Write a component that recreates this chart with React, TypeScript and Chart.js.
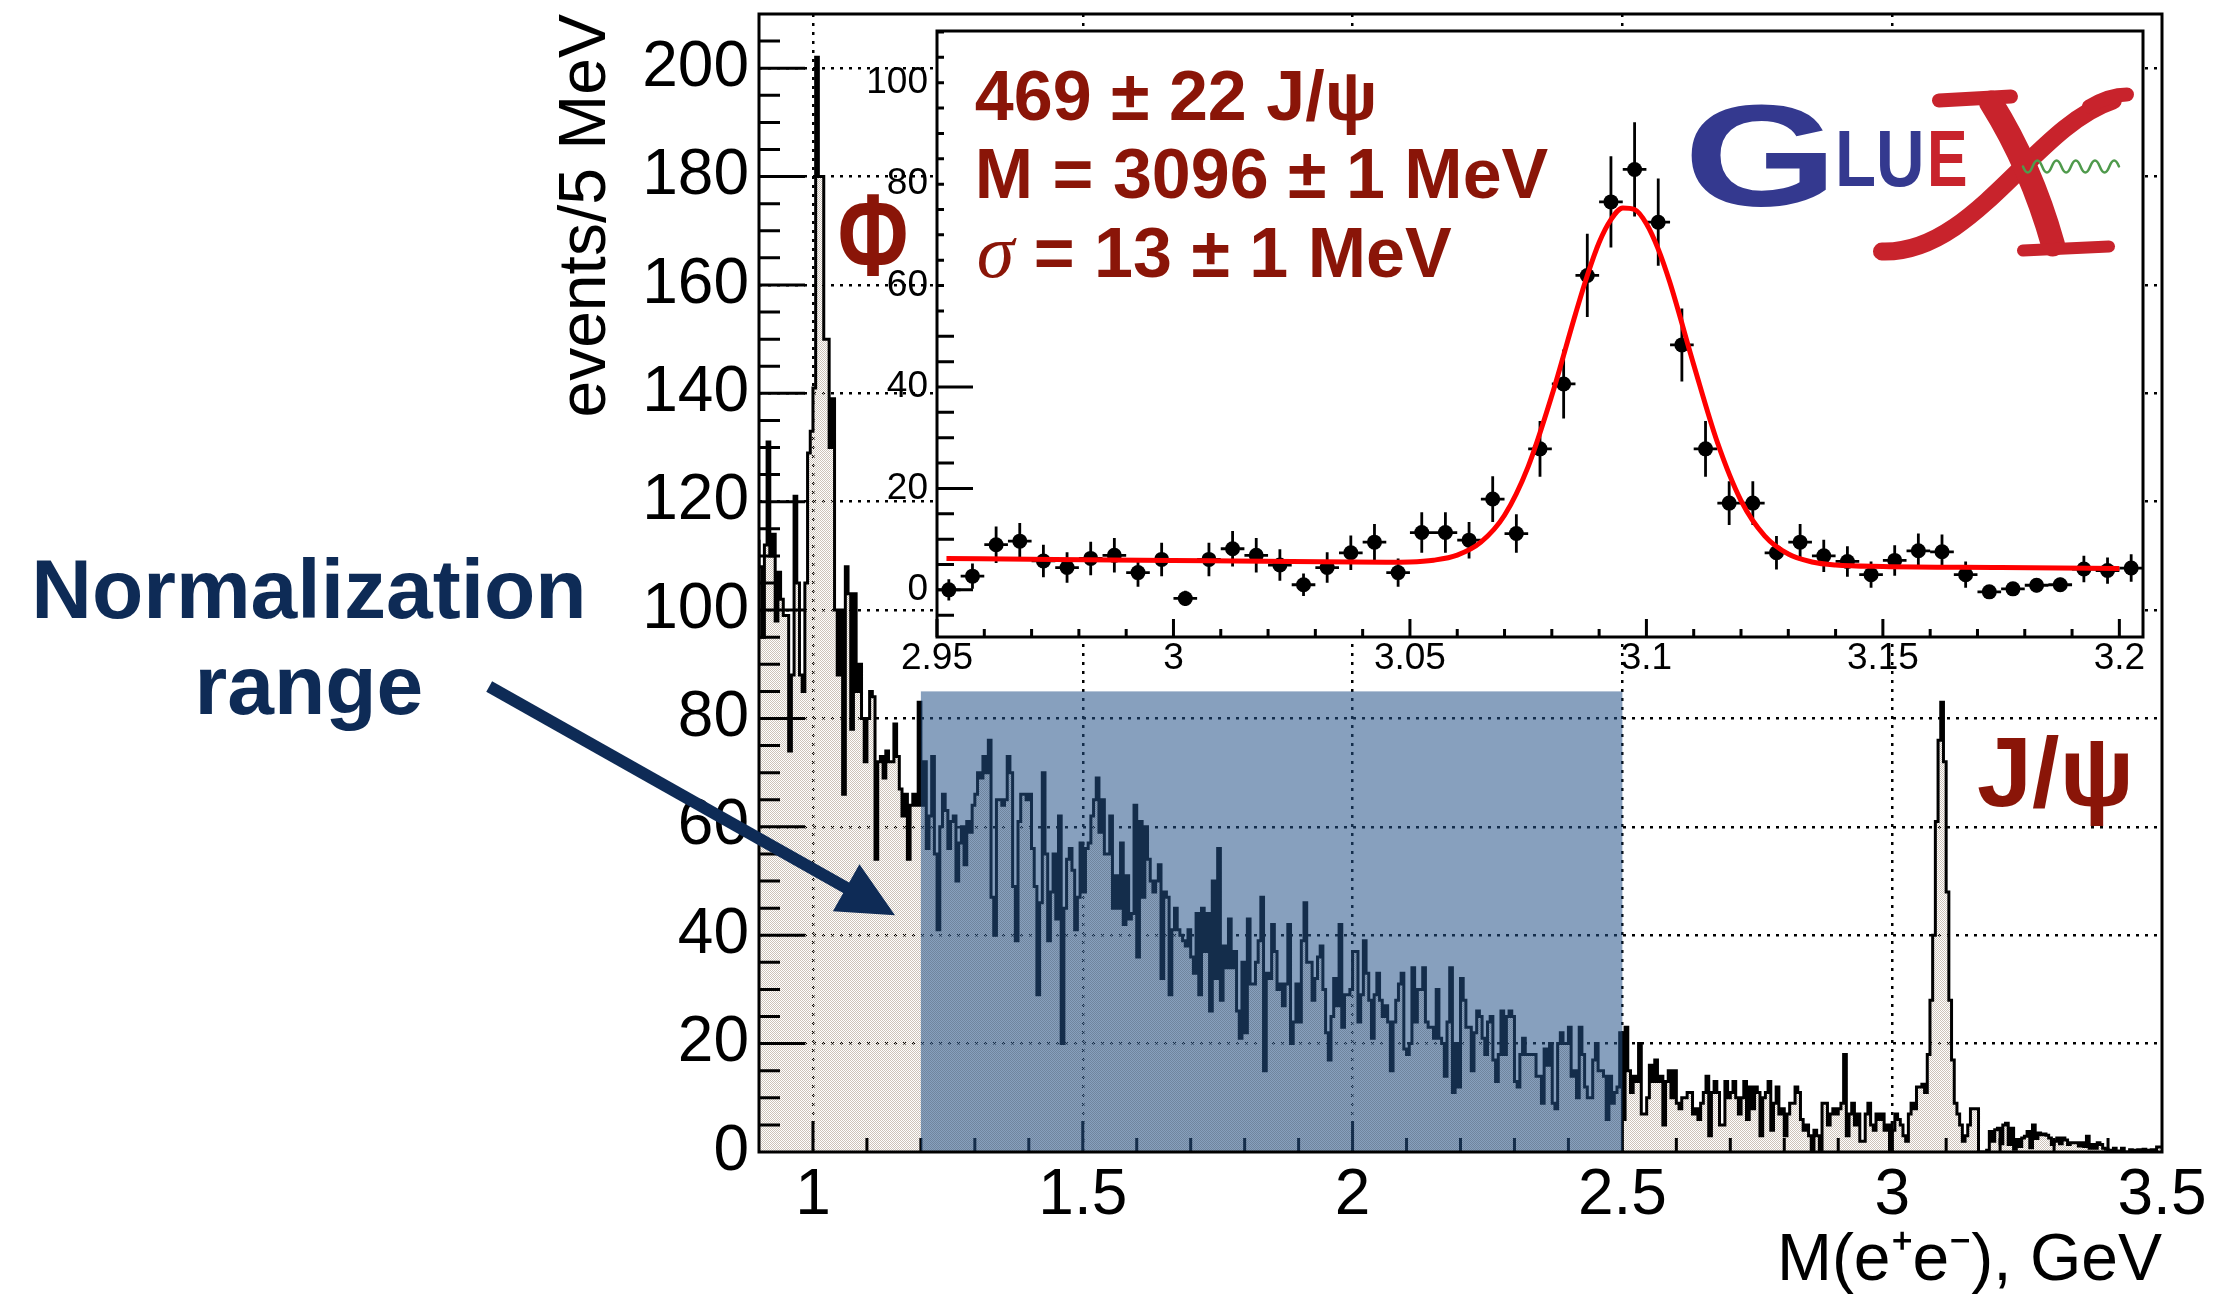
import React, { useEffect, useRef } from 'react';
import { Chart, registerables } from 'chart.js';

Chart.register(...registerables);

const FONT = "'Liberation Sans', Helvetica, Arial, sans-serif";
const SERIF = "'Liberation Serif', 'Times New Roman', serif";
const DARK_RED = '#8a1508';
const NAVY = '#0e2b56';

// ---------------- Main histogram: events / 5 MeV, M(e+e-) 0.90 .. 3.50 GeV ----------------
const BIN_WIDTH = 0.005;
const X_MIN = 0.9;
const X_MAX = 3.5;
const Y_MAX = 210;

const counts090 = [113, 108, 95, 112, 131, 110, 114, 98, 107, 102, 99, 99, 74, 88, 121, 105, 88, 85, 105, 129];
const counts100 = [133, 141, 202, 180, 180, 150, 150, 130, 139, 100, 88, 100, 66, 108, 103, 78, 103, 85, 90, 80];
const counts110 = [72, 80, 85, 84, 54, 72, 73, 69, 74, 72, 72, 79, 73, 67, 62, 66, 54, 64, 66, 64];
const counts120 = [83, 64, 72, 56, 62, 73, 55, 41, 60, 66, 63, 56, 61, 62, 50, 57, 60, 53, 61, 59];
const counts130 = [64, 66, 70, 69, 73, 70, 76, 47, 40, 65, 65, 64, 65, 73, 70, 49, 39, 61, 66, 66];
const counts140 = [65, 66, 56, 49, 29, 46, 70, 55, 39, 48, 55, 43, 62, 20, 45, 54, 56, 52, 41, 47];
const counts150 = [57, 48, 56, 57, 62, 65, 69, 59, 65, 55, 55, 62, 45, 51, 45, 57, 42, 51, 43, 44];
const counts160 = [64, 36, 61, 47, 60, 54, 50, 48, 50, 53, 32, 48, 47, 29, 41, 45, 41, 40, 39, 38];
const counts170 = [41, 36, 33, 44, 29, 45, 37, 44, 26, 50, 32, 56, 28, 38, 34, 43, 34, 37, 26, 21];
const counts180 = [35, 22, 43, 31, 31, 35, 39, 47, 15, 33, 32, 42, 37, 30, 31, 27, 31, 42, 20, 24];
const counts190 = [31, 24, 39, 46, 35, 35, 28, 32, 36, 38, 30, 22, 17, 25, 32, 27, 42, 23, 29, 29];
const counts200 = [30, 37, 37, 24, 29, 39, 33, 28, 21, 29, 33, 28, 25, 27, 24, 15, 24, 28, 31, 33];
const counts210 = [19, 18, 20, 34, 24, 30, 30, 34, 24, 23, 23, 21, 30, 21, 20, 14, 24, 34, 11, 20];
const counts220 = [12, 32, 28, 23, 23, 15, 22, 26, 25, 21, 18, 24, 25, 17, 13, 18, 26, 18, 25, 26];
const counts230 = [25, 13, 12, 18, 21, 18, 18, 18, 18, 14, 14, 9, 19, 16, 20, 9, 8, 20, 22, 20];
const counts240 = [20, 23, 14, 15, 10, 23, 18, 12, 10, 10, 17, 20, 15, 15, 14, 6, 14, 9, 11, 12];
const counts250 = [22, 6, 23, 15, 11, 14, 13, 20, 7, 7, 10, 16, 13, 17, 13, 14, 5, 13, 15, 10];
const counts260 = [15, 9, 8, 10, 10, 11, 11, 7, 8, 6, 9, 11, 14, 3, 11, 13, 11, 5, 5, 13];
const counts270 = [10, 11, 13, 10, 7, 10, 13, 6, 12, 8, 12, 11, 3, 10, 11, 13, 4, 9, 12, 7];
const counts280 = [8, 3, 7, 9, 9, 12, 11, 6, 4, 5, 3, 0, 4, 3, 0, 9, 9, 5, 7, 8];
const counts290 = [7, 8, 9, 18, 3, 7, 9, 5, 7, 2, 2, 7, 9, 5, 4, 7, 6, 7, 4, 5];
const counts300 = [0, 4, 7, 6, 5, 3, 2, 7, 9, 8, 12, 12, 12.5, 11, 18, 28, 40, 61, 76, 83];
const counts310 = [72, 48, 28, 17, 9, 7, 5, 2, 3, 5, 8, 8, 8, 0, 0, 0, 0.3, 3.8, 2, 4.1];
const counts320 = [4.4, 1.5, 5, 5.3, 1.4, 4.4, 0.5, 2.3, 1, 2.6, 2.9, 3.8, 0.8, 5, 2.5, 3.5, 3.2, 3.3, 3.1, 2.6];
const counts330 = [1.4, 2, 2.6, 1.5, 2.6, 2.2, 1.4, 1.7, 1.7, 1.7, 1.1, 1.7, 1, 2.9, 0.7, 1.4, 0.7, 1.7, 1.4, 0.7];
const counts340 = [0.5, 0.3, 0, 0.7, 0.2, 0, 0.7, 0, 0, 0.4, 0, 0.3, 0.4, 0, 0.5, 0.3, 0, 0.4, 0.2, 0.9];

const counts = [
  ...counts090, ...counts100, ...counts110, ...counts120, ...counts130, ...counts140, ...counts150,
  ...counts160, ...counts170, ...counts180, ...counts190, ...counts200, ...counts210, ...counts220,
  ...counts230, ...counts240, ...counts250, ...counts260, ...counts270, ...counts280, ...counts290,
  ...counts300, ...counts310, ...counts320, ...counts330, ...counts340,
];

const mainXTicks = [1, 1.5, 2, 2.5, 3, 3.5];
const mainYTicks = [0, 20, 40, 60, 80, 100, 120, 140, 160, 180, 200];
const normRange = [1.2, 2.5];
const normBoxTop = 85;

// annotations (data coordinates of the main frame)
const phiLabel = { text: 'Φ', x: 1.111, y: 161.8 };
const jpsiLabel = { text: 'J/ψ', x: 3.157, y: 63.8 };
const normLabel = { lines: ['Normalization', 'range'], x: 0.066, y: [98.5, 80.8] };
const arrowFrom = [0.4, 85.9];
const arrowTo = [1.152, 43.7];

// ---------------- Inset: J/psi region ----------------
const insetXRange = [2.95, 3.205];
const insetYRange = [-9.3, 110.2];
const insetFirstCenter = 2.9525;
const insetY = [
  0, 2.7, 8.9, 9.6, 5.7, 4.4, 6.2, 6.8, 3.4, 6.0,
  -1.7, 6.0, 8.1, 6.8, 4.9, 1.0, 4.4, 7.3, 9.4, 3.4,
  11.3, 11.3, 9.8, 17.9, 11.1, 27.8, 40.6, 62, 76.5, 82.9,
  72.5, 48.3, 27.8, 17.1, 17.1, 7.3, 9.4, 6.7, 5.6, 3.0,
  5.8, 7.7, 7.5, 3.0, -0.4, 0.2, 0.9, 1.0, 4.1, 3.8, 4.3,
];
const insetErr = [
  2.1, 2.5, 3.6, 3.6, 3.2, 3.0, 3.3, 3.4, 2.8, 3.3,
  1.5, 3.3, 3.5, 3.4, 3.1, 2.2, 3.0, 3.4, 3.6, 2.8,
  4.0, 4.0, 3.6, 4.5, 3.8, 5.5, 6.8, 8.2, 9.0, 9.3,
  8.6, 7.2, 5.5, 4.3, 4.3, 3.3, 3.6, 3.2, 3.0, 2.6,
  3.0, 3.4, 3.4, 2.6, 1.2, 1.2, 1.4, 1.4, 2.6, 2.6, 2.7,
];
const fitX = [2.952, 2.975, 3.0, 3.025, 3.045, 3.05, 3.055, 3.06, 3.065, 3.07, 3.075, 3.08, 3.085, 3.0875, 3.09, 3.0925, 3.095, 3.0975, 3.1, 3.1025, 3.105, 3.11, 3.115, 3.12, 3.125, 3.13, 3.135, 3.14, 3.15, 3.175, 3.2];
const fitY = [6.2, 6.0, 5.8, 5.6, 5.45, 5.5, 5.85, 6.85, 9.4, 14.7, 24.3, 38.3, 54.4, 62.0, 68.5, 73.0, 75.3, 75.0, 72.2, 67.2, 60.5, 44.4, 29.1, 17.6, 10.65, 7.06, 5.5, 4.9, 4.6, 4.4, 4.2];
const insetXTicks = [2.95, 3, 3.05, 3.1, 3.15, 3.2];
const insetYTicks = [0, 20, 40, 60, 80, 100];
const fitText = { lines: ['469 ± 22 J/ψ', 'M = 3096 ± 1 MeV', ' = 13 ± 1 MeV'], sigma: 'σ', x: 2.958, y: [92.6, 77.2, 61.6] };
const logoAnchor = { x: 3.109, y: 75.6 };

const fmt = (v: any) => String(Math.round(Number(v) * 1000) / 1000);

const mainDecor = {
  id: 'mainDecor',
  afterDatasetsDraw(chart: any) {
    const { ctx, chartArea: a, scales } = chart;
    const xs = scales.x, ys = scales.y;
    ctx.save();
    // inward ticks
    ctx.strokeStyle = '#000';
    ctx.lineWidth = 3;
    ctx.beginPath();
    for (let k = 1; k <= 41; k++) {
      const v = k * 5;
      const py = ys.getPixelForValue(v);
      const len = v % 20 === 0 ? 46 : 21;
      ctx.moveTo(a.left, py);
      ctx.lineTo(a.left + len, py);
    }
    for (let k = 10; k <= 34; k++) {
      const px = xs.getPixelForValue(k / 10);
      const len = k % 5 === 0 ? 31 : 14;
      ctx.moveTo(px, a.bottom);
      ctx.lineTo(px, a.bottom - len);
    }
    ctx.stroke();
    // normalization range overlay
    const x0 = xs.getPixelForValue(normRange[0]);
    const x1 = xs.getPixelForValue(normRange[1]);
    const yt = ys.getPixelForValue(normBoxTop);
    const yb = ys.getPixelForValue(0);
    ctx.fillStyle = 'rgba(36,82,137,0.55)';
    ctx.fillRect(x0, yt, x1 - x0, yb - yt);
    // frame
    ctx.strokeStyle = '#000';
    ctx.lineWidth = 3;
    ctx.strokeRect(a.left, a.top, a.right - a.left, a.bottom - a.top);
    // Phi label
    ctx.fillStyle = DARK_RED;
    ctx.textBaseline = 'alphabetic';
    ctx.save();
    ctx.translate(xs.getPixelForValue(phiLabel.x), ys.getPixelForValue(phiLabel.y));
    ctx.scale(0.74, 1);
    ctx.font = `bold 116px ${FONT}`;
    ctx.textAlign = 'center';
    ctx.fillText(phiLabel.text, 0, 0);
    ctx.restore();
    // J/psi label
    ctx.font = `bold 99px ${FONT}`;
    ctx.textAlign = 'left';
    ctx.fillText(jpsiLabel.text, xs.getPixelForValue(jpsiLabel.x), ys.getPixelForValue(jpsiLabel.y));
    // Normalization range
    ctx.fillStyle = NAVY;
    ctx.font = `bold 84px ${FONT}`;
    ctx.textAlign = 'center';
    normLabel.lines.forEach((t, i) => {
      ctx.fillText(t, xs.getPixelForValue(normLabel.x), ys.getPixelForValue(normLabel.y[i]));
    });
    // arrow
    const sx = xs.getPixelForValue(arrowFrom[0]);
    const sy = ys.getPixelForValue(arrowFrom[1]);
    const tx = xs.getPixelForValue(arrowTo[0]);
    const ty = ys.getPixelForValue(arrowTo[1]);
    const ang = Math.atan2(ty - sy, tx - sx);
    const headLen = 56, headHalf = 27;
    const bx = tx - headLen * Math.cos(ang);
    const by = ty - headLen * Math.sin(ang);
    ctx.strokeStyle = NAVY;
    ctx.lineWidth = 12;
    ctx.lineCap = 'butt';
    ctx.beginPath();
    ctx.moveTo(sx, sy);
    ctx.lineTo(bx + 4 * Math.cos(ang), by + 4 * Math.sin(ang));
    ctx.stroke();
    ctx.fillStyle = NAVY;
    ctx.beginPath();
    ctx.moveTo(tx, ty);
    ctx.lineTo(bx - headHalf * Math.sin(ang), by + headHalf * Math.cos(ang));
    ctx.lineTo(bx + headHalf * Math.sin(ang), by - headHalf * Math.cos(ang));
    ctx.closePath();
    ctx.fill();
    ctx.restore();
  },
};

const insetDecor = {
  id: 'insetDecor',
  beforeDraw(chart: any) {
    const { ctx, chartArea: a } = chart;
    ctx.save();
    ctx.fillStyle = '#fff';
    ctx.fillRect(a.left, a.top, a.right - a.left, a.bottom - a.top);
    ctx.restore();
  },
  beforeDatasetsDraw(chart: any) {
    const { ctx, scales } = chart;
    const xs = scales.x, ys = scales.y;
    ctx.save();
    ctx.strokeStyle = '#000';
    ctx.lineWidth = 2.8;
    ctx.beginPath();
    insetY.forEach((v, i) => {
      const xv = insetFirstCenter + i * BIN_WIDTH;
      const px = xs.getPixelForValue(xv);
      const py = ys.getPixelForValue(v);
      ctx.moveTo(px, ys.getPixelForValue(v - insetErr[i]));
      ctx.lineTo(px, ys.getPixelForValue(v + insetErr[i]));
      ctx.moveTo(xs.getPixelForValue(xv - BIN_WIDTH / 2), py);
      ctx.lineTo(xs.getPixelForValue(xv + BIN_WIDTH / 2), py);
    });
    ctx.stroke();
    ctx.restore();
  },
  afterDatasetsDraw(chart: any) {
    const { ctx, chartArea: a, scales } = chart;
    const xs = scales.x, ys = scales.y;
    ctx.save();
    ctx.strokeStyle = '#000';
    ctx.lineWidth = 3;
    ctx.beginPath();
    for (let k = -1; k <= 22; k++) {
      const v = k * 5;
      const py = ys.getPixelForValue(v);
      let len = v % 20 === 0 ? 36 : 17;
      if (v > 53) len = 7;
      ctx.moveTo(a.left, py);
      ctx.lineTo(a.left + len, py);
    }
    for (let k = 295; k <= 320; k++) {
      const px = xs.getPixelForValue(k / 100);
      const len = k % 5 === 0 ? 18 : 8;
      ctx.moveTo(px, a.bottom);
      ctx.lineTo(px, a.bottom - len);
    }
    ctx.stroke();
    ctx.strokeRect(a.left, a.top, a.right - a.left, a.bottom - a.top);

    // fit results
    ctx.fillStyle = DARK_RED;
    ctx.textAlign = 'left';
    ctx.textBaseline = 'alphabetic';
    const tx = xs.getPixelForValue(fitText.x);
    ctx.font = `bold 70px ${FONT}`;
    ctx.fillText(fitText.lines[0], tx, ys.getPixelForValue(fitText.y[0]));
    ctx.fillText(fitText.lines[1], tx, ys.getPixelForValue(fitText.y[1]));
    ctx.font = `italic 76px ${SERIF}`;
    const y3 = ys.getPixelForValue(fitText.y[2]);
    ctx.fillText(fitText.sigma, tx + 2, y3);
    const sw = ctx.measureText(fitText.sigma).width;
    ctx.font = `bold 70px ${FONT}`;
    ctx.fillText(fitText.lines[2], tx + 2 + sw, y3);

    // GlueX logo
    const ax = xs.getPixelForValue(logoAnchor.x);
    const ay = ys.getPixelForValue(logoAnchor.y);
    ctx.save();
    ctx.translate(ax, ay);
    ctx.save();
    ctx.scale(1.38, 1);
    ctx.fillStyle = '#34398f';
    ctx.font = `bold 144px ${FONT}`;
    ctx.fillText('G', -4, 0);
    ctx.restore();
    ctx.save();
    ctx.translate(146, -20);
    ctx.scale(0.84, 1);
    ctx.fillStyle = '#34398f';
    ctx.font = `bold 80px ${FONT}`;
    ctx.fillText('LU', 0, 0);
    ctx.restore();
    ctx.save();
    ctx.translate(238, -20);
    ctx.scale(0.76, 1);
    ctx.fillStyle = '#c8232c';
    ctx.font = `bold 80px ${FONT}`;
    ctx.fillText('E', 0, 0);
    ctx.restore();
    ctx.strokeStyle = '#c8232c';
    ctx.lineCap = 'round';
    // rising swoosh
    ctx.lineWidth = 18;
    ctx.beginPath();
    ctx.moveTo(193, 45);
    ctx.bezierCurveTo(285, 48, 345, -80, 424, -106);
    ctx.stroke();
    ctx.lineWidth = 14;
    ctx.beginPath();
    ctx.moveTo(400, -100);
    ctx.quadraticCurveTo(420, -112, 438, -112);
    ctx.stroke();
    // top serif
    ctx.lineWidth = 14;
    ctx.beginPath();
    ctx.moveTo(250, -106);
    ctx.lineTo(322, -110);
    ctx.stroke();
    // falling diagonal
    ctx.lineWidth = 24;
    ctx.beginPath();
    ctx.moveTo(302, -104);
    ctx.quadraticCurveTo(342, -40, 364, 38);
    ctx.stroke();
    // foot
    ctx.lineWidth = 12;
    ctx.beginPath();
    ctx.moveTo(334, 44);
    ctx.lineTo(420, 40);
    ctx.stroke();
    // green wave
    ctx.strokeStyle = '#4f9a4c';
    ctx.lineWidth = 2.5;
    ctx.beginPath();
    ctx.moveTo(334, -40);
    for (let k = 0; k < 10; k++) {
      const x0 = 334 + k * 9.6;
      ctx.quadraticCurveTo(x0 + 4.8, -40 + (k % 2 === 0 ? 12 : -12), x0 + 9.6, -40);
    }
    ctx.stroke();
    ctx.restore();
    ctx.restore();
  },
};

export default function App() {
  const mainRef = useRef<HTMLCanvasElement>(null);
  const insetRef = useRef<HTMLCanvasElement>(null);

  useEffect(() => {
    const mainCanvas = mainRef.current;
    const insetCanvas = insetRef.current;
    if (!mainCanvas || !insetCanvas) return;

    const pc = document.createElement('canvas');
    pc.width = 2;
    pc.height = 2;
    const pg = pc.getContext('2d');
    if (pg) {
      pg.fillStyle = '#cdc3b9';
      pg.fillRect(0, 0, 1, 1);
      pg.fillRect(1, 1, 1, 1);
    }
    const mctx = mainCanvas.getContext('2d');
    const stipple: any = (mctx && mctx.createPattern(pc, 'repeat')) || '#e6e0da';

    const histPoints = counts.map((c, i) => ({ x: X_MIN + i * BIN_WIDTH, y: c }));
    histPoints.push({ x: X_MAX, y: counts[counts.length - 1] });

    const main = new Chart(mainCanvas, {
      type: 'line',
      data: {
        datasets: [
          {
            data: histPoints,
            stepped: 'after',
            borderColor: '#000',
            borderWidth: 3,
            pointRadius: 0,
            fill: 'origin',
            backgroundColor: stipple,
          } as any,
        ],
      },
      options: {
        animation: false,
        responsive: false,
        devicePixelRatio: 1,
        layout: { padding: { left: 0, top: 14, right: 54, bottom: 0 } },
        plugins: { legend: { display: false }, tooltip: { enabled: false } },
        scales: {
          x: {
            type: 'linear',
            min: X_MIN,
            max: X_MAX,
            afterBuildTicks: (s: any) => { s.ticks = mainXTicks.map((v) => ({ value: v })); },
            afterFit: (s: any) => { s.height = 144; s.paddingLeft = 0; s.paddingRight = 0; },
            grid: {
              color: (c: any) => (c.tick && c.tick.value >= X_MAX ? 'rgba(0,0,0,0)' : '#000'),
              lineWidth: 2.5,
              drawTicks: false,
            },
            border: { display: false, dash: [3, 6] },
            ticks: {
              color: '#000',
              font: { family: FONT, size: 64, lineHeight: 1 },
              padding: 12,
              maxRotation: 0,
              autoSkip: false,
              callback: fmt,
            },
            title: {
              display: true,
              text: 'M(e⁺e⁻), GeV',
              align: 'end',
              color: '#000',
              font: { family: FONT, size: 66, lineHeight: 1 },
              padding: { top: 0, bottom: 1 },
            },
          },
          y: {
            type: 'linear',
            min: 0,
            max: Y_MAX,
            afterBuildTicks: (s: any) => { s.ticks = mainYTicks.map((v) => ({ value: v })); },
            afterFit: (s: any) => { s.width = 759; s.paddingTop = 0; s.paddingBottom = 0; },
            grid: {
              color: (c: any) => (c.tick && c.tick.value <= 0 ? 'rgba(0,0,0,0)' : '#000'),
              lineWidth: 2.5,
              drawTicks: false,
            },
            border: { display: false, dash: [3, 6] },
            ticks: {
              color: '#000',
              font: { family: FONT, size: 64, lineHeight: 1 },
              padding: 10,
              autoSkip: false,
              callback: fmt,
            },
            title: {
              display: true,
              text: 'events/5 MeV',
              align: 'end',
              color: '#000',
              font: { family: FONT, size: 66, lineHeight: 1 },
              padding: { top: 554, bottom: 0 },
            },
          },
        },
      } as any,
      plugins: [mainDecor],
    });

    const insetPoints = insetY.map((v, i) => ({ x: insetFirstCenter + i * BIN_WIDTH, y: v }));
    const fitPoints = fitX.map((x, i) => ({ x, y: fitY[i] }));

    const inset = new Chart(insetCanvas, {
      type: 'line',
      data: {
        datasets: [
          {
            data: fitPoints,
            borderColor: '#ff0000',
            borderWidth: 5,
            pointRadius: 0,
            fill: false,
            cubicInterpolationMode: 'monotone',
          } as any,
          {
            data: insetPoints,
            showLine: false,
            pointRadius: 7.5,
            pointBackgroundColor: '#000',
            pointBorderWidth: 0,
            borderColor: '#000',
          } as any,
        ],
      },
      options: {
        animation: false,
        responsive: false,
        devicePixelRatio: 1,
        layout: { padding: { left: 0, top: 31, right: 27, bottom: 0 } },
        plugins: { legend: { display: false }, tooltip: { enabled: false } },
        scales: {
          x: {
            type: 'linear',
            min: insetXRange[0],
            max: insetXRange[1],
            afterBuildTicks: (s: any) => { s.ticks = insetXTicks.map((v) => ({ value: v })); },
            afterFit: (s: any) => { s.height = 63; s.paddingLeft = 0; s.paddingRight = 0; },
            grid: { display: false, drawTicks: false },
            border: { display: false },
            ticks: {
              color: '#000',
              font: { family: FONT, size: 37, lineHeight: 1 },
              padding: 3,
              maxRotation: 0,
              autoSkip: false,
              callback: fmt,
            },
          },
          y: {
            type: 'linear',
            min: insetYRange[0],
            max: insetYRange[1],
            afterBuildTicks: (s: any) => { s.ticks = insetYTicks.map((v) => ({ value: v })); },
            afterFit: (s: any) => { s.width = 97; s.paddingTop = 0; s.paddingBottom = 0; },
            grid: { display: false, drawTicks: false },
            border: { display: false },
            ticks: {
              color: '#000',
              font: { family: FONT, size: 37, lineHeight: 1 },
              padding: 9,
              autoSkip: false,
              callback: fmt,
            },
          },
        },
      } as any,
      plugins: [insetDecor],
    });

    return () => {
      main.destroy();
      inset.destroy();
    };
  }, []);

  return (
    <div style={{ position: 'absolute', left: 0, top: 0, width: 2216, height: 1296, background: '#fff', overflow: 'hidden' }}>
      <canvas ref={mainRef} width={2216} height={1296} style={{ position: 'absolute', left: 0, top: 0, width: 2216, height: 1296 }} />
      <canvas ref={insetRef} width={1330} height={700} style={{ position: 'absolute', left: 840, top: 0, width: 1330, height: 700 }} />
    </div>
  );
}
